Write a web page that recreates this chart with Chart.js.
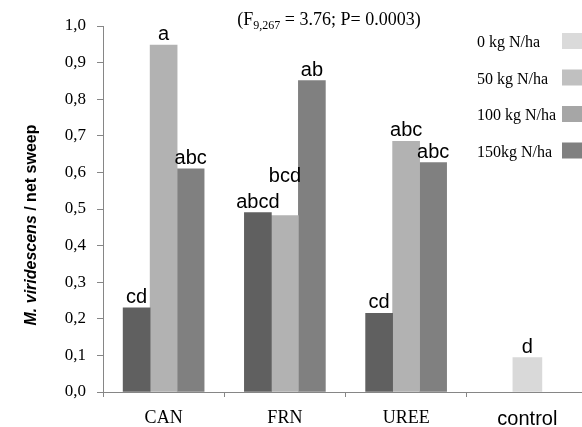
<!DOCTYPE html>
<html>
<head>
<meta charset="utf-8">
<script src="https://cdn.jsdelivr.net/npm/chart.js@4.4.0/dist/chart.umd.min.js"></script>
<style>
html, body { margin: 0; padding: 0; background: #fff; overflow: hidden; }
#wrap { width: 588px; height: 427px; }
</style>
</head>
<body>
<div id="wrap"><canvas id="chart1"></canvas></div>
<script>
// categories on the x axis
var categories = ["CAN", "FRN", "UREE", "control"];

// series values, in the order the bars stand in each group
var seriesLabels = ["150kg N/ha", "50 kg N/ha", "100 kg N/ha", "0 kg N/ha"];
var n150 = [0.23, 0.49, 0.215, null];
var n50 = [0.948, 0.482, 0.685, null];
var n100 = [0.61, 0.851, 0.627, null];
var n0 = [null, null, null, 0.094];

// letters above the bars
var letters150 = ["cd", "abcd", "cd", ""];
var letters50 = ["a", "bcd", "abc", ""];
var letters100 = ["abc", "ab", "abc", ""];
var letters0 = ["", "", "", "d"];

// legend (as drawn in the figure)
var legendLabels = ["0 kg N/ha", "50 kg N/ha", "100 kg N/ha", "150kg N/ha"];
var legendColors = ["#dadada", "#c0c0c0", "#a6a6a6", "#808080"];

// y ticks
var yMin = 0, yMax = 1, yStep = 0.1;

var titleMain = "(F";
var titleSub = "9,267";
var titleRest = " = 3.76; P= 0.0003)";
var yTitleItalic = "M. viridescens";
var yTitleRest = " / net sweep";

var serif = "'Liberation Serif', 'Times New Roman', serif";
var sans = "'Liberation Sans', Arial, sans-serif";
var axisGray = "#868686";

//draws the letters over each bar, lifting one if it hits the one before
var barLetters = {
	id: "barLetters",
	afterDatasetsDraw: function(chart) {
		var ctx = chart.ctx;
		var allLetters = [letters150, letters50, letters100, letters0];
		ctx.save();
		ctx.font = "20px " + sans;
		ctx.fillStyle = "#000";
		ctx.textAlign = "center";
		ctx.textBaseline = "alphabetic";
		for (var i = 0; i < categories.length; i++) {
			var prev = null;
			for (var d = 0; d < chart.data.datasets.length; d++) {
				var v = chart.data.datasets[d].data[i];
				if (v === null) continue;
				var el = chart.getDatasetMeta(d).data[i];
				var txt = allLetters[d][i];
				var w = ctx.measureText(txt).width;
				var y = el.y - 5;
				if (prev && el.x - w / 2 < prev.right && Math.abs(y - prev.base) < 16) {
					y = prev.base - 26;
				}
				ctx.fillText(txt, el.x, y);
				prev = { right: el.x + w / 2, base: y };
			}
		}
		ctx.restore();
	}
};

//title, y title and legend
var extras = {
	id: "extras",
	afterDraw: function(chart) {
		var ctx = chart.ctx;
		ctx.save();
		ctx.fillStyle = "#000";
		ctx.textBaseline = "alphabetic";

		// title with subscript
		var fMain = "18px " + serif;
		var fSub = "12px " + serif;
		ctx.font = fMain;
		var w1 = ctx.measureText(titleMain).width;
		var w3 = ctx.measureText(titleRest).width;
		ctx.font = fSub;
		var w2 = ctx.measureText(titleSub).width;
		var x = 329 - (w1 + w2 + w3) / 2;
		var base = 25;
		ctx.textAlign = "left";
		ctx.font = fMain;
		ctx.fillText(titleMain, x, base);
		ctx.font = fSub;
		ctx.fillText(titleSub, x + w1, base + 4);
		ctx.font = fMain;
		ctx.fillText(titleRest, x + w1 + w2, base);

		// y axis title
		var fIt = "italic bold 16px " + sans;
		var fB = "bold 16px " + sans;
		ctx.font = fIt;
		var a = ctx.measureText(yTitleItalic).width;
		ctx.font = fB;
		var b = ctx.measureText(yTitleRest).width;
		ctx.translate(36, 225);
		ctx.rotate(-Math.PI / 2);
		ctx.font = fIt;
		ctx.fillText(yTitleItalic, -(a + b) / 2, 0);
		ctx.font = fB;
		ctx.fillText(yTitleRest, -(a + b) / 2 + a, 0);
		ctx.setTransform(1, 0, 0, 1, 0, 0);
		ctx.restore();

		// legend
		ctx.save();
		ctx.font = "16px " + serif;
		ctx.textBaseline = "middle";
		ctx.textAlign = "left";
		for (var i = 0; i < legendLabels.length; i++) {
			var cy = 41 + i * 36.5;
			ctx.fillStyle = "#000";
			ctx.fillText(legendLabels[i], 477, cy + 2);
			ctx.fillStyle = legendColors[i];
			ctx.fillRect(562, cy - 8, 20, 16);
		}
		ctx.restore();
	}
};

var ctx = document.getElementById("chart1");

var chart = new Chart(ctx, {
	type: "bar",
	data: {
		labels: categories,
		datasets: [
			{ label: seriesLabels[0], data: n150, backgroundColor: "#606060", barThickness: 27, skipNull: true },
			{ label: seriesLabels[1], data: n50, backgroundColor: "#b2b2b2", barThickness: 27, skipNull: true },
			{ label: seriesLabels[2], data: n100, backgroundColor: "#808080", barThickness: 27, skipNull: true },
			{ label: seriesLabels[3], data: n0, backgroundColor: "#d9d9d9", barThickness: 29, skipNull: true }
		]
	},
	options: {
		responsive: true,
		maintainAspectRatio: false,
		animation: false,
		layout: { padding: { top: 26, left: 0, right: 0, bottom: 0 } },
		plugins: {
			legend: { display: false },
			tooltip: { enabled: false }
		},
		scales: {
			x: {
				grid: { display: true, drawOnChartArea: false, drawTicks: true, tickLength: 5, color: axisGray, offset: true },
				border: { display: true, color: axisGray, width: 1 },
				ticks: {
					color: "#000",
					padding: 10,
					maxRotation: 0,
					font: function(c) {
						return c.index === 3 ? { family: sans, size: 20 } : { family: serif, size: 18 };
					}
				},
				afterFit: function(scale) { scale.height = 35; }
			},
			y: {
				min: yMin,
				max: yMax,
				grid: { display: true, drawOnChartArea: false, drawTicks: true, tickLength: 6, color: axisGray },
				border: { display: true, color: axisGray, width: 1 },
				ticks: {
					stepSize: yStep,
					color: "#000",
					padding: 11,
					font: { family: serif, size: 17 },
					callback: function(v) { return Number(v).toFixed(1).replace(".", ","); }
				},
				afterFit: function(scale) { scale.width = 103; }
			}
		}
	},
	plugins: [barLetters, extras]
});
</script>
</body>
</html>
